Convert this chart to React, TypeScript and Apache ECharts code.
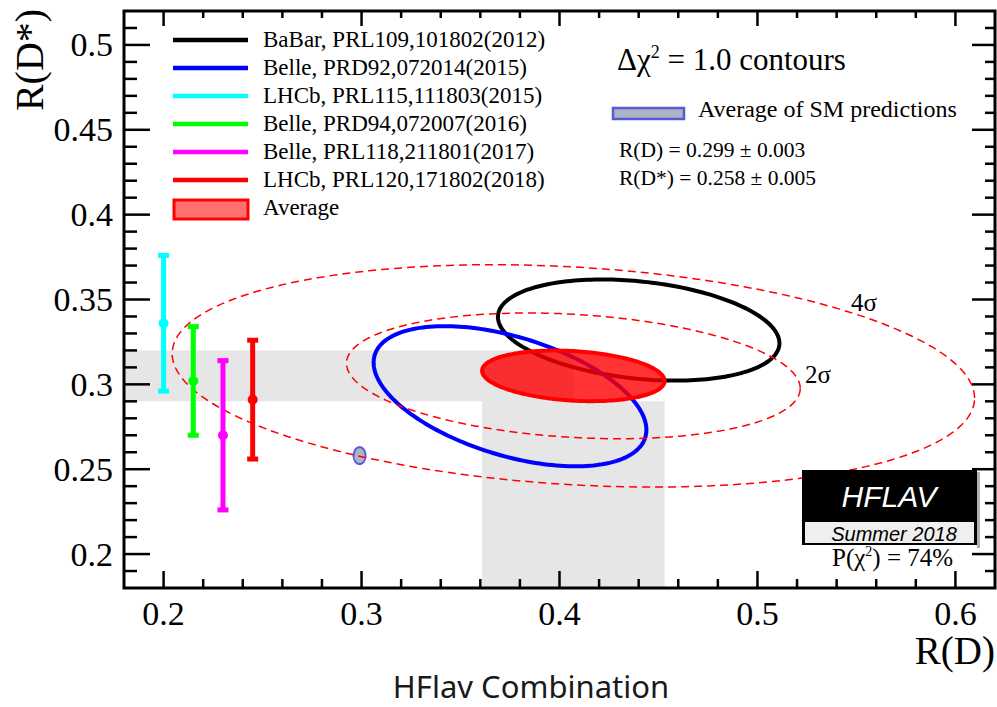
import React, { useEffect, useRef } from "react";
import * as echarts from "echarts";

const SERIF = "Liberation Serif";
const SANS = "Liberation Sans";

// ---- axes ----
const X_MIN = 0.18;
const X_MAX = 0.62;
const Y_MIN = 0.18;
const Y_MAX = 0.52;
const xMajorTicks = [0.2, 0.3, 0.4, 0.5, 0.6];
const yMajorTicks = [0.2, 0.25, 0.3, 0.35, 0.4, 0.45, 0.5];
const xMinorStep = 0.02;
const yMinorStep = 0.01;

// ---- 1D R(D*) measurements ----
const barLabels = [
  "LHCb, PRL115,111803(2015)",
  "Belle, PRD94,072007(2016)",
  "Belle, PRL118,211801(2017)",
  "LHCb, PRL120,171802(2018)",
];
const barX = [0.2, 0.215, 0.23, 0.245];
const barY = [0.336, 0.302, 0.27, 0.291];
const barErr = [0.04, 0.032, 0.044, 0.035];
const barColors = ["#00ffff", "#00ff00", "#ff00ff", "#ff0000"];

// ---- 2D measurements: [R(D), R(D*), sigma R(D), sigma R(D*), rho] ----
const babar = [0.44, 0.332, 0.0711, 0.0298, -0.26];
const belle2015 = [0.375, 0.293, 0.0689, 0.0413, -0.48];
const average = [0.407, 0.305, 0.0461, 0.0149, -0.2];
const smPrediction = [0.299, 0.258, 0.003, 0.005, 0];
// delta chi2 levels of the dashed contours of the average
const contourDchi2 = [6.18, 19.33];

// ---- legend ----
const legendLabels = [
  "BaBar, PRL109,101802(2012)",
  "Belle, PRD92,072014(2015)",
  ...barLabels,
];
const legendColors = ["#000000", "#0000ff", ...barColors];

function stepTicks(min: number, max: number, step: number) {
  const out: number[] = [];
  const n = Math.round((max - min) / step);
  for (let i = 0; i <= n; i++) out.push(Math.round((min + i * step) * 1000) / 1000);
  return out;
}

function isMajor(v: number, majors: number[]) {
  return majors.some((m) => Math.abs(m - v) < 1e-6);
}

function ellipseSeries(name: string, params: number[], k: number, style: any, z: number) {
  return {
    name,
    type: "custom",
    clip: true,
    z,
    data: [[...params, k]],
    renderItem: (_p: any, api: any) => {
      const cx = api.value(0);
      const cy = api.value(1);
      const sx = api.value(2);
      const sy = api.value(3);
      const rho = api.value(4);
      const kk = api.value(5);
      const s = Math.sqrt(1 - rho * rho);
      const pts: number[][] = [];
      const n = 200;
      for (let i = 0; i < n; i++) {
        const t = (2 * Math.PI * i) / n;
        const u = Math.cos(t);
        const w = Math.sin(t);
        pts.push(api.coord([cx + kk * sx * u, cy + kk * sy * (rho * u + s * w)]));
      }
      return { type: "polygon", shape: { points: pts }, style };
    },
  };
}

export default function App() {
  const ref = useRef<HTMLDivElement>(null);

  useEffect(() => {
    if (!ref.current) return;
    const chart = echarts.init(ref.current, undefined, { renderer: "svg" });
    const xAll = stepTicks(X_MIN, X_MAX, xMinorStep).filter((v) => v > X_MIN && v < X_MAX);
    const yAll = stepTicks(Y_MIN, Y_MAX, yMinorStep).filter((v) => v > Y_MIN && v < Y_MAX);

    const tickStroke = { stroke: "#000", lineWidth: 2.5 };

    const [acx, acy, asx, asy] = average;
    const bands = [
      [X_MIN, acx, acy - asy, acy + asy],
      [acx - asx, acx + asx, Y_MIN, acy - asy],
    ];

    const legendRowsY = [40, 68, 96, 124, 152, 180];
    const graphic: any[] = [];
    const txt = (text: string, x: number, y: number, size: number, extra: any = {}) => ({
      type: "text",
      z: 20,
      x,
      y,
      style: {
        text,
        fontFamily: SERIF,
        fontSize: size,
        fill: "#000",
        align: "left",
        verticalAlign: "middle",
        textAlign: "left",
        textVerticalAlign: "middle",
        ...extra,
      },
    });
    legendLabels.forEach((lab, i) => {
      graphic.push({
        type: "line",
        z: 20,
        shape: { x1: 173, y1: legendRowsY[i], x2: 248, y2: legendRowsY[i] },
        style: { stroke: legendColors[i], lineWidth: 4.5 },
      });
      graphic.push(txt(lab, 263, legendRowsY[i] - 1, 23));
    });
    graphic.push({
      type: "rect",
      z: 20,
      shape: { x: 174, y: 200, width: 74, height: 19 },
      style: { fill: "#ff7070", stroke: "#ff0000", lineWidth: 3 },
    });
    graphic.push(txt("Average", 263, 207, 23));
    graphic.push({
      type: "text",
      z: 20,
      x: 617,
      y: 59,
      style: {
        text: "{a|\u0394\u03c7}{s|2}{a| = 1.0 contours}",
        fill: "#000",
        align: "left",
        verticalAlign: "middle",
        textAlign: "left",
        textVerticalAlign: "middle",
        rich: {
          a: { fontFamily: SERIF, fontSize: 31, fill: "#000", lineHeight: 32 },
          s: { fontFamily: SERIF, fontSize: 18, fill: "#000", verticalAlign: "top", lineHeight: 18 },
        },
      },
    });
    graphic.push({
      type: "rect",
      z: 20,
      shape: { x: 613, y: 108, width: 71, height: 11 },
      style: { fill: "#aab6c4", stroke: "#5a5ad8", lineWidth: 2.5 },
    });
    graphic.push(txt("Average of SM predictions", 698, 109, 24));
    graphic.push(txt("R(D) = 0.299 \u00b1 0.003", 619, 150, 21.5));
    graphic.push(txt("R(D*) = 0.258 \u00b1 0.005", 619, 178, 21.5));
    graphic.push(txt("4\u03c3", 851, 302, 25));
    graphic.push(txt("2\u03c3", 805, 374, 25));
    const yName: any = txt("R(D*)", 29, 60, 40, { align: "center", textAlign: "center" });
    yName.rotation = Math.PI / 2;
    graphic.push(yName);
    graphic.push(txt("R(D)", 995, 650, 39, { align: "right", textAlign: "right" }));
    // HFLAV logo
    graphic.push({
      type: "rect",
      z: 30,
      shape: { x: 977, y: 472, width: 3, height: 76 },
      style: { fill: "#b0b0b0" },
    });
    graphic.push({
      type: "rect",
      z: 30,
      shape: { x: 802, y: 470, width: 175, height: 75 },
      style: { fill: "#000" },
    });
    graphic.push({
      type: "rect",
      z: 31,
      shape: { x: 805, y: 522, width: 169, height: 21 },
      style: { fill: "#efefef" },
    });
    graphic.push({
      type: "text",
      z: 32,
      x: 889,
      y: 496,
      style: {
        text: "HFLAV",
        fontFamily: SANS,
        fontSize: 30,
        fontStyle: "italic",
        fill: "#fff",
        align: "center",
        verticalAlign: "middle",
        textAlign: "center",
        textVerticalAlign: "middle",
      },
    });
    graphic.push({
      type: "text",
      z: 32,
      x: 894,
      y: 534,
      style: {
        text: "Summer 2018",
        fontFamily: SANS,
        fontSize: 20,
        fontStyle: "italic",
        fill: "#000",
        align: "center",
        verticalAlign: "middle",
        textAlign: "center",
        textVerticalAlign: "middle",
      },
    });
    graphic.push({
      type: "text",
      z: 32,
      x: 832,
      y: 557,
      style: {
        text: "{a|P(\u03c7}{s|2}{a|) = 74%}",
        fill: "#000",
        align: "left",
        verticalAlign: "middle",
        textAlign: "left",
        textVerticalAlign: "middle",
        rich: {
          a: { fontFamily: SERIF, fontSize: 25, fill: "#000", lineHeight: 26 },
          s: { fontFamily: SERIF, fontSize: 14, fill: "#000", verticalAlign: "top", lineHeight: 14 },
        },
      },
    });
    graphic.push({
      type: "text",
      z: 20,
      x: 531,
      y: 686,
      style: {
        text: "HFlav Combination",
        fontFamily: "Noto Sans",
        fontSize: 31,
        fill: "#1a1a1a",
        align: "center",
        verticalAlign: "middle",
        textAlign: "center",
        textVerticalAlign: "middle",
      },
    });

    const option: any = {
      animation: false,
      backgroundColor: "#fff",
      grid: {
        left: 124,
        right: 2,
        top: 11,
        bottom: 119,
        show: true,
        z: 10,
        borderColor: "#000",
        borderWidth: 3,
        backgroundColor: "transparent",
      },
      xAxis: {
        type: "value",
        min: X_MIN,
        max: X_MAX,
        axisLine: { show: false },
        axisTick: { show: false },
        splitLine: { show: false },
        axisLabel: {
          customValues: xMajorTicks,
          margin: 8,
          fontSize: 34,
          color: "#000",
          fontFamily: SERIF,
        },
      },
      yAxis: {
        type: "value",
        min: Y_MIN,
        max: Y_MAX,
        axisLine: { show: false },
        axisTick: { show: false },
        splitLine: { show: false },
        axisLabel: {
          customValues: yMajorTicks,
          margin: 11,
          fontSize: 34,
          color: "#000",
          fontFamily: SERIF,
        },
      },
      series: [
        {
          name: "bands",
          type: "custom",
          clip: true,
          z: 1,
          encode: { x: [0, 1], y: [2, 3] },
          data: bands,
          renderItem: (_p: any, api: any) => {
            const a = api.coord([api.value(0), api.value(3)]);
            const b = api.coord([api.value(1), api.value(2)]);
            return {
              type: "rect",
              shape: { x: a[0], y: a[1], width: b[0] - a[0], height: b[1] - a[1] },
              style: { fill: "#e6e6e6" },
            };
          },
        },
        ellipseSeries("BaBar", babar, 1, { fill: "none", stroke: "#000", lineWidth: 4 }, 2),
        ellipseSeries("Belle 2015", belle2015, 1, { fill: "none", stroke: "#0000ff", lineWidth: 4 }, 2),
        ellipseSeries("SM", smPrediction, 1, { fill: "#aab6c4", stroke: "#5a5ad8", lineWidth: 2 }, 3),
        ellipseSeries(
          "Average",
          average,
          1,
          { fill: "rgba(255,0,0,0.8)", stroke: "#ff0000", lineWidth: 4 },
          4
        ),
        ...contourDchi2.map((d2, i) =>
          ellipseSeries(
            "contour" + i,
            average,
            Math.sqrt(d2),
            { fill: "none", stroke: "#ff0000", lineWidth: 1.5, lineDash: [8, 5] },
            5
          )
        ),
        {
          name: "R(D*) measurements",
          type: "custom",
          clip: true,
          z: 6,
          data: barX.map((x, i) => [x, barY[i], barErr[i]]),
          renderItem: (p: any, api: any) => {
            const x = api.value(0);
            const y = api.value(1);
            const e = api.value(2);
            const top = api.coord([x, y + e]);
            const bot = api.coord([x, y - e]);
            const c = api.coord([x, y]);
            const color = barColors[p.dataIndex];
            return {
              type: "group",
              children: [
                {
                  type: "line",
                  shape: { x1: top[0], y1: top[1], x2: bot[0], y2: bot[1] },
                  style: { stroke: color, lineWidth: 5 },
                },
                {
                  type: "rect",
                  shape: { x: top[0] - 5.5, y: top[1] - 2.5, width: 11, height: 5 },
                  style: { fill: color },
                },
                {
                  type: "rect",
                  shape: { x: bot[0] - 5.5, y: bot[1] - 2.5, width: 11, height: 5 },
                  style: { fill: color },
                },
                {
                  type: "circle",
                  shape: { cx: c[0], cy: c[1], r: 5 },
                  style: { fill: color },
                },
              ],
            };
          },
        },
        {
          name: "x ticks",
          type: "custom",
          clip: false,
          z: 12,
          silent: true,
          data: xAll.map((v) => [v, Y_MIN]),
          renderItem: (p: any, api: any) => {
            const v = api.value(0);
            const px = api.coord([v, Y_MIN])[0];
            const cs = p.coordSys;
            const major = isMajor(v, xMajorTicks);
            const lb = major ? 17 : 9;
            const lt = major ? 15 : 7;
            const b = cs.y + cs.height;
            return {
              type: "group",
              children: [
                { type: "line", shape: { x1: px, y1: b, x2: px, y2: b - lb }, style: tickStroke },
                { type: "line", shape: { x1: px, y1: cs.y, x2: px, y2: cs.y + lt }, style: tickStroke },
              ],
            };
          },
        },
        {
          name: "y ticks",
          type: "custom",
          clip: false,
          z: 12,
          silent: true,
          data: yAll.map((v) => [X_MIN, v]),
          renderItem: (p: any, api: any) => {
            const v = api.value(1);
            const py = api.coord([X_MIN, v])[1];
            const cs = p.coordSys;
            const major = isMajor(v, yMajorTicks);
            const ll = major ? 26 : 13;
            const lr = major ? 23 : 10;
            const r = cs.x + cs.width;
            return {
              type: "group",
              children: [
                { type: "line", shape: { x1: cs.x, y1: py, x2: cs.x + ll, y2: py }, style: tickStroke },
                { type: "line", shape: { x1: r, y1: py, x2: r - lr, y2: py }, style: tickStroke },
              ],
            };
          },
        },
      ],
      graphic,
    };
    chart.setOption(option);
    return () => chart.dispose();
  }, []);

  return (
    <div
      ref={ref}
      style={{ position: "fixed", left: 0, top: 0, width: 997, height: 707, background: "#fff" }}
    />
  );
}
